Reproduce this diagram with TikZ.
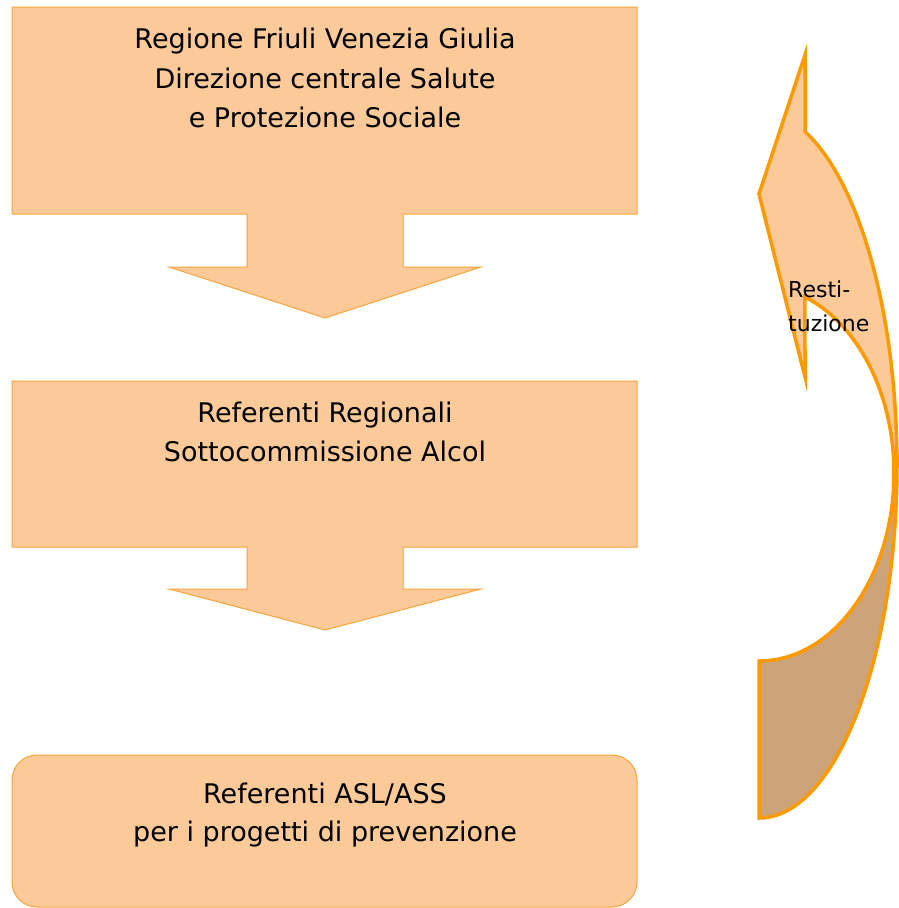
\documentclass[tikz,border=0pt]{standalone}
\usepackage{fontspec}
\setmainfont{DejaVu Sans}
\definecolor{boxfill}{RGB}{252, 202, 152}
\definecolor{boxline}{RGB}{247, 165, 60}
\definecolor{arrline}{RGB}{255, 153, 0}
\definecolor{backfill}{RGB}{205, 163, 122}
\usetikzlibrary{positioning, calc}

\begin{document}
\begin{tikzpicture}[x=1pt, y=-1pt]
  \useasboundingbox (0, 0) rectangle (899, 908);
  \tikzset{
    callout/.style={fill=boxfill, draw=boxline, line width=1pt},
    boxtext/.style={align=center, font=\fontsize{27}{39.5}\selectfont},
    curvearr/.style={draw=arrline, line width=3.5pt, line join=miter}
  }

  % Regione -- callout with arrow down
  \draw[callout] (12, 7) -- (637, 7) -- (637, 214) -- (403, 214) -- (403, 267)
    -- (481, 267) -- (325, 318) -- (169, 267) -- (247, 267) -- (247, 214)
    -- (12, 214) -- cycle;
  \node[boxtext] (regione) at (325, 78)
    {Regione Friuli Venezia Giulia\\Direzione centrale Salute\\e Protezione Sociale};

  % Referenti regionali -- callout with arrow down
  \draw[callout] (12, 381) -- (637, 381) -- (637, 547) -- (403, 547) -- (403, 589)
    -- (481, 589) -- (325, 630) -- (169, 589) -- (247, 589) -- (247, 547)
    -- (12, 547) -- cycle;
  \node[boxtext] (regionali) at (325, 432)
    {Referenti Regionali\\Sottocommissione Alcol};

  % Referenti ASL/ASS
  \draw[callout, rounded corners=25pt] (12, 755) rectangle (637, 907);
  \node[boxtext, font=\fontsize{27}{38.5}\selectfont] (asl) at (325, 815)
    {Referenti ASL/ASS\\per i progetti di prevenzione};

  % curved arrow, back band
  \draw[curvearr, fill=backfill] (759, 661) -- (759, 818)
    arc[start angle=90, end angle=0, x radius=138, y radius=354]
    -- (894, 473)
    arc[start angle=0, end angle=90, x radius=135, y radius=188] -- cycle;

  % curved arrow, front band and head
  \draw[curvearr, fill=boxfill] (805, 377) -- (759, 194) -- (805, 55) -- (805, 131.6)
    arc[start angle=-69.9, end angle=0, x radius=140, y radius=354]
    -- (894, 473)
    arc[start angle=0, end angle=-69.5, x radius=137, y radius=188] -- cycle;
  \node[anchor=west, inner sep=0pt, align=left,
    font=\fontsize{22}{34}\selectfont] (rest) at (788, 306) {Resti-\\tuzione};
\end{tikzpicture}
\end{document}
